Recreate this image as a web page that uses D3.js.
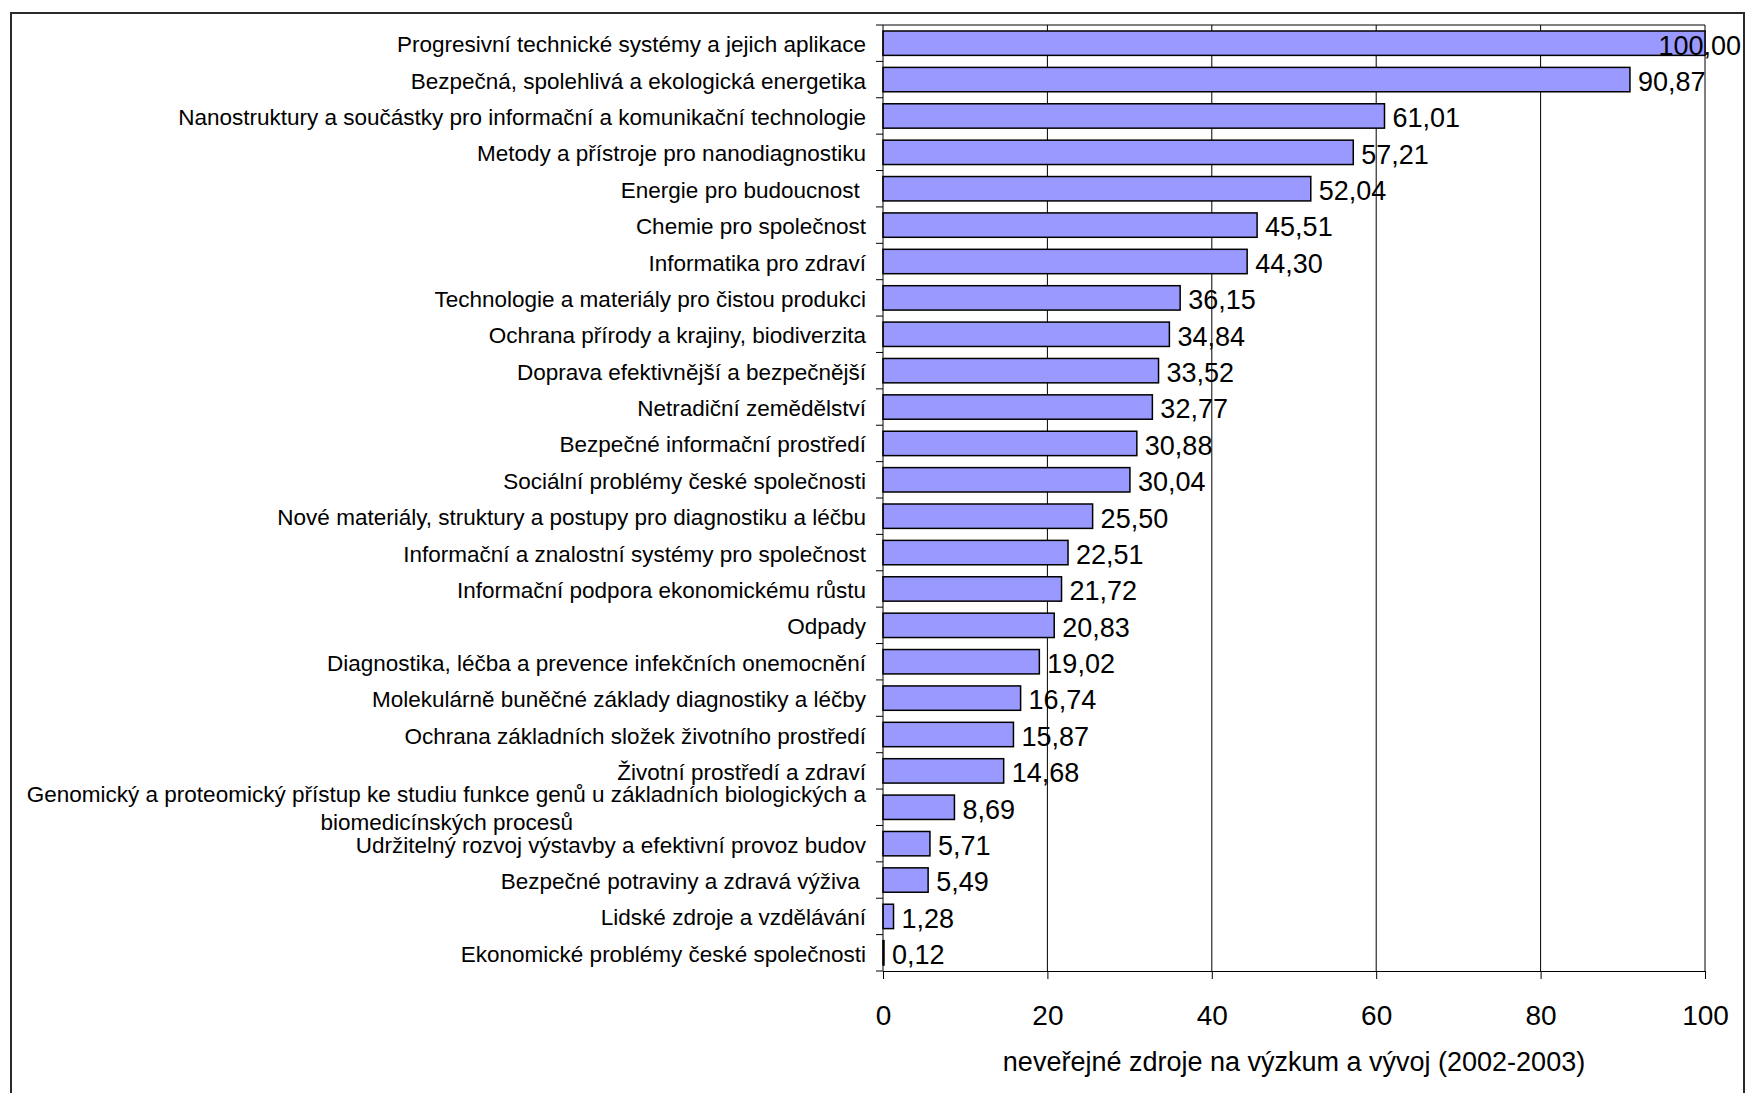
<!DOCTYPE html>
<html>
<head>
<meta charset="utf-8">
<script src="https://cdnjs.cloudflare.com/ajax/libs/d3/7.8.5/d3.min.js"></script>
<style>
  body { margin: 0; background: #fff; }
  svg { font-family: "Liberation Sans", Arial, sans-serif; }
  text { white-space: pre; }
</style>
</head>
<body>
<svg id="chart" width="1746" height="1093"></svg>
<script>
// categories, top to bottom as shown
let categories = [
  "Progresivní technické systémy a jejich aplikace",
  "Bezpečná, spolehlivá a ekologická energetika",
  "Nanostruktury a součástky pro informační a komunikační technologie",
  "Metody a přístroje pro nanodiagnostiku",
  "Energie pro budoucnost ",
  "Chemie pro společnost",
  "Informatika pro zdraví",
  "Technologie a materiály pro čistou produkci",
  "Ochrana přírody a krajiny, biodiverzita",
  "Doprava efektivnější a bezpečnější",
  "Netradiční zemědělství",
  "Bezpečné informační prostředí",
  "Sociální problémy české společnosti",
  "Nové materiály, struktury a postupy pro diagnostiku a léčbu",
  "Informační a znalostní systémy pro společnost",
  "Informační podpora ekonomickému růstu",
  "Odpady",
  "Diagnostika, léčba a prevence infekčních onemocnění",
  "Molekulárně buněčné základy diagnostiky a léčby",
  "Ochrana základních složek životního prostředí",
  "Životní prostředí a zdraví",
  "Genomický a proteomický přístup ke studiu funkce genů u základních biologických a\nbiomedicínských procesů",
  "Udržitelný rozvoj výstavby a efektivní provoz budov",
  "Bezpečné potraviny a zdravá výživa ",
  "Lidské zdroje a vzdělávání",
  "Ekonomické problémy české společnosti"
];

let values = [100.00, 90.87, 61.01, 57.21, 52.04, 45.51, 44.30, 36.15, 34.84, 33.52,
  32.77, 30.88, 30.04, 25.50, 22.51, 21.72, 20.83, 19.02, 16.74, 15.87,
  14.68, 8.69, 5.71, 5.49, 1.28, 0.12];

let xTicks = [0, 20, 40, 60, 80, 100];
let xTitle = "neveřejné zdroje na výzkum a vývoj (2002-2003)";

let svg = d3.select("#chart");
let width = parseInt(svg.attr("width"));
let height = parseInt(svg.attr("height"));

let plotLeft = 883, plotRight = 1705, plotTop = 25, plotBottom = 971;

// chart border
svg.append("rect")
  .attr("x", 11).attr("y", 13)
  .attr("width", width - 13).attr("height", height)
  .attr("fill", "#fff").attr("stroke", "#2a2a2a").attr("stroke-width", 2);

let x = d3.scaleLinear().domain([0, 100]).range([plotLeft, plotRight]);
let y = d3.scaleBand().domain(d3.range(categories.length))
  .range([plotTop, plotBottom]).paddingInner(0.33).paddingOuter(0.165);
let step = y.step();

// gridlines
svg.append("g").selectAll("line")
  .data(xTicks.slice(1))
  .join("line")
  .attr("x1", d => x(d)).attr("x2", d => x(d))
  .attr("y1", plotTop).attr("y2", plotBottom)
  .attr("stroke", "#000").attr("stroke-width", 1);

svg.append("line")
  .attr("x1", plotLeft).attr("x2", plotRight).attr("y1", plotTop).attr("y2", plotTop)
  .attr("stroke", "#000").attr("stroke-width", 1);

// bars
svg.append("g").selectAll("rect")
  .data(values)
  .join("rect")
  .attr("x", x(0))
  .attr("y", (d, i) => y(i))
  .attr("width", d => x(d) - x(0))
  .attr("height", y.bandwidth())
  .attr("fill", "#9999ff")
  .attr("stroke", "#000")
  .attr("stroke-width", 1.5);

// y axis line + ticks at band boundaries
let yAxis = svg.append("g");
yAxis.append("line")
  .attr("x1", plotLeft).attr("x2", plotLeft).attr("y1", plotTop).attr("y2", plotBottom)
  .attr("stroke", "#000");
yAxis.selectAll("line.tick")
  .data(d3.range(categories.length + 1))
  .join("line")
  .attr("class", "tick")
  .attr("x1", plotLeft - 7).attr("x2", plotLeft)
  .attr("y1", i => plotTop + i * step).attr("y2", i => plotTop + i * step)
  .attr("stroke", "#000");

// x axis
let xAxis = d3.axisBottom(x).tickValues(xTicks).tickSize(8).tickPadding(26)
  .tickFormat(d3.format("d"));
svg.append("g")
  .attr("transform", `translate(0,${plotBottom})`)
  .call(xAxis)
  .call(g => g.select(".domain").attr("stroke", "#000"))
  .call(g => g.selectAll("text").attr("font-size", 28).attr("fill", "#000")
    .attr("font-family", '"Liberation Sans", Arial, sans-serif'));

// category labels
let labelX = plotLeft - 17;
svg.append("g").selectAll("g")
  .data(categories)
  .join("g")
  .each(function(d, i) {
    let lines = d.split("\n");
    let cy = y(i) + y.bandwidth() / 2;
    lines.forEach((ln, k) => {
      let off = (k - (lines.length - 1) / 2) * 28;
      d3.select(this).append("text")
        .attr("x", k == 0 ? labelX : labelX - 293)
        .attr("y", cy + off)
        .attr("dy", "0.4em")
        .attr("text-anchor", "end")
        .attr("font-size", 22.5)
        .attr("fill", "#000")
        .text(ln);
    });
  });

// value labels
let fmt = v => d3.format(".2f")(v).replace(".", ",");
let maxRight = 1741;
svg.append("g").selectAll("text")
  .data(values)
  .join("text")
  .attr("x", d => x(d) + 8)
  .attr("y", (d, i) => y(i) + y.bandwidth() / 2)
  .attr("dy", "0.42em")
  .attr("font-size", 27)
  .attr("fill", "#000")
  .text(d => fmt(d))
  .each(function(d) {
    let w = this.getComputedTextLength();
    if (x(d) + 8 + w > maxRight) d3.select(this).attr("x", maxRight - w);
  });

// x title
svg.append("text")
  .attr("x", (plotLeft + plotRight) / 2)
  .attr("y", 1062)
  .attr("dy", "0.35em")
  .attr("text-anchor", "middle")
  .attr("font-size", 27)
  .attr("fill", "#000")
  .text(xTitle);
</script>
</body>
</html>
